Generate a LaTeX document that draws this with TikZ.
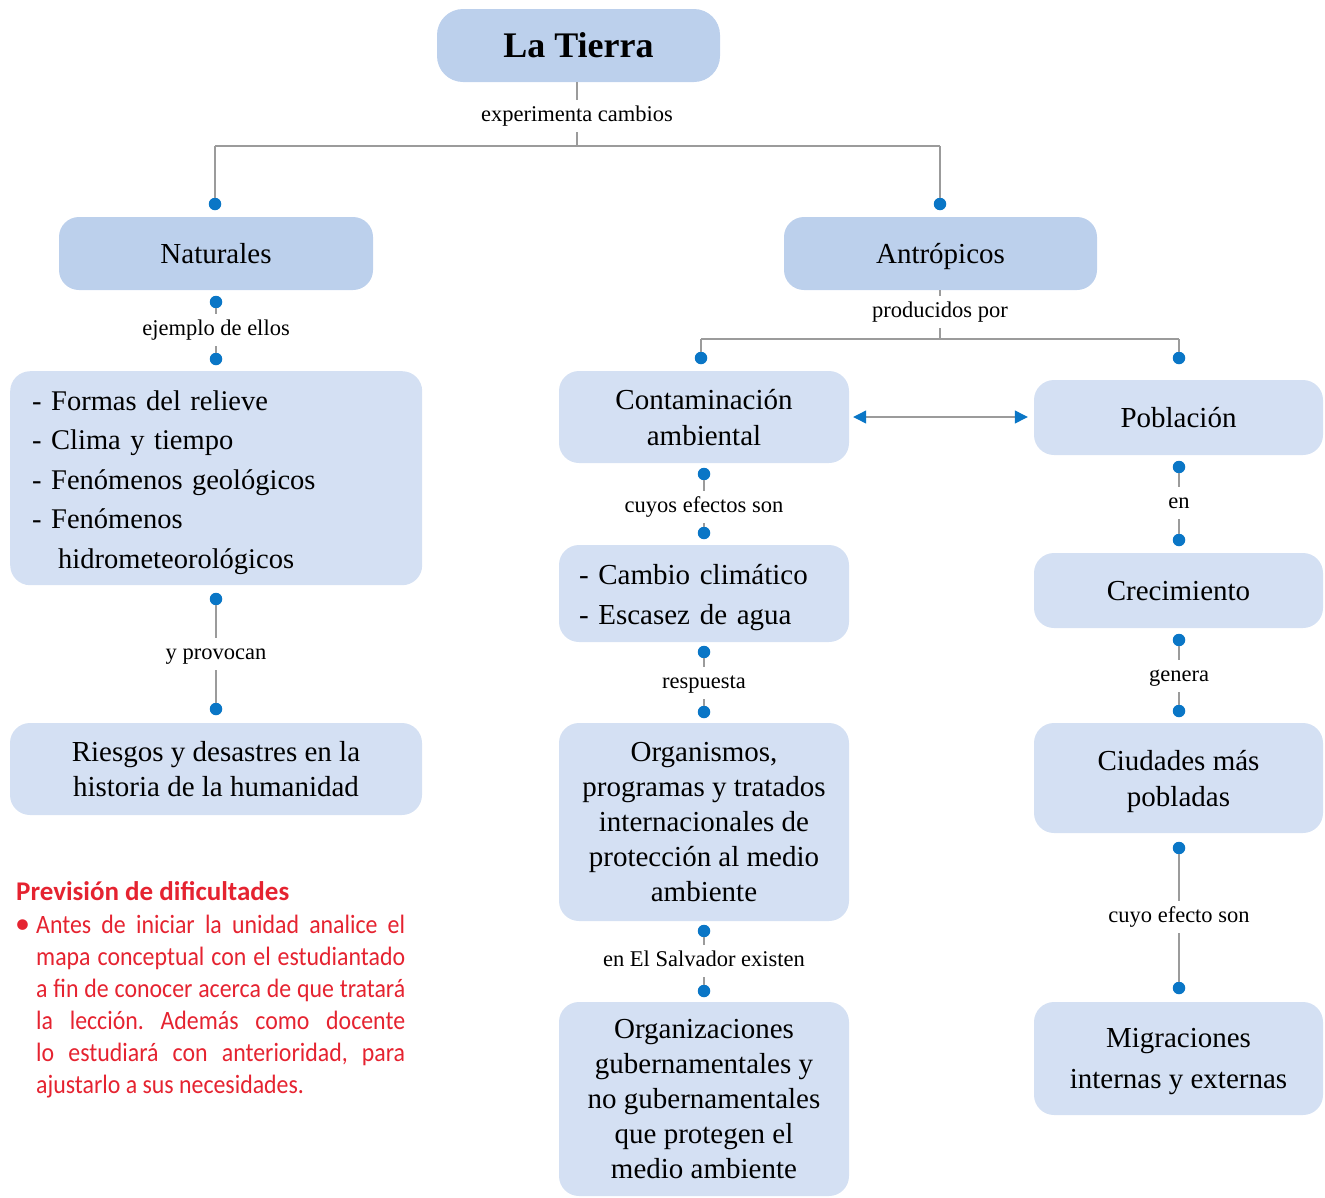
\documentclass[tikz,border=0pt]{standalone}
\usepackage{fontspec}
\setmainfont{Liberation Serif}
\newfontfamily\redfont[FakeStretch=0.9]{Carlito}
\newfontfamily\redtitle{Carlito}
\usetikzlibrary{arrows.meta}
\definecolor{boxdark}{HTML}{BCD0EC}
\definecolor{boxlight}{HTML}{D4E0F3}
\definecolor{dotblue}{HTML}{0A76C6}
\definecolor{linegray}{HTML}{9B9B9B}
\definecolor{redtxt}{HTML}{E52330}
\tikzset{
  conn/.style={draw=linegray, line width=1.2pt},
  dot/.style={circle, fill=dotblue, inner sep=0pt, minimum size=12.5pt},
  lbl/.style={font=\fontsize{22.5}{24}\selectfont, inner xsep=2pt, inner ysep=6pt, text height=15pt, text depth=5pt},
  boxd/.style={fill=boxdark, rounded corners=20pt, inner sep=0pt, align=center, text depth=0pt, font=\fontsize{29}{35}\selectfont},
  boxl/.style={boxd, fill=boxlight},
  listbox/.style={fill=boxlight, rounded corners=20pt, inner ysep=0pt, align=left},
  redline/.style={anchor=base west, inner sep=0pt, text=redtxt, font=\redfont\fontsize{26.5}{32}\selectfont}
}
\begin{document}
\frenchspacing
\begin{tikzpicture}[x=1pt,y=-1pt]
\useasboundingbox (0,0) rectangle (1325,1197);
\clip (0,0) rectangle (1325,1197);

% top
\node[boxd, rounded corners=26pt, minimum width=283, minimum height=73, font=\fontsize{36}{40}\selectfont\bfseries] (tierra) at (578.5,45.5) {La Tierra};
\node[lbl] (l0) at (577,116) {experimenta cambios};
\coordinate (j0) at (577,146);
\coordinate (j0L) at (215,146);
\coordinate (j0R) at (940,146);
\node[dot] (d1) at (215,204) {};
\node[dot] (d2) at (940,204) {};
\draw[conn] (l0.north |- tierra.south) -- (l0.north);
\draw[conn] (l0.south) -- (j0);
\draw[conn] (j0L) -- (j0R);
\draw[conn] (j0L) -- (d1);
\draw[conn] (j0R) -- (d2);

% Naturales branch
\node[boxd, minimum width=314, minimum height=73] (nat) at (216,253.5) {Naturales};
\node[dot] (d3) at (216,302) {};
\node[lbl] (l1) at (216,330) {ejemplo de ellos};
\node[dot] (d4) at (216,359) {};
\draw[conn] (d3) -- (l1) -- (d4);
\node[listbox, anchor=north west, minimum height=214, text width=368, inner xsep=22pt, font=\fontsize{28.5}{39.5}\selectfont] (ejem) at (10,371)
  {\rule{0pt}{28pt}- Formas del relieve\\- Clima y tiempo\\- Fenómenos geológicos\\- Fenómenos\\\hspace*{26pt}hidrometeorológicos};
\node[dot] (d5) at (216,599) {};
\node[lbl] (l2) at (216,654) {y provocan};
\node[dot] (d6) at (216,709) {};
\draw[conn] (d5) -- (l2) -- (d6);
\node[boxl, minimum width=412, minimum height=92] (riesgos) at (216,769) {Riesgos y desastres en la\\historia de la humanidad};

% Antropicos branch
\node[boxd, minimum width=313, minimum height=73] (antro) at (940.5,253.5) {Antrópicos};
\node[lbl] (l3) at (940,312) {producidos por};
\coordinate (j1) at (940,339);
\coordinate (j1L) at (701,339);
\coordinate (j1R) at (1179,339);
\node[dot] (d7) at (701,358) {};
\node[dot] (d8) at (1179,358) {};
\draw[conn] (l3.north |- antro.south) -- (l3.north);
\draw[conn] (l3.south) -- (j1);
\draw[conn] (j1L) -- (j1R);
\draw[conn] (j1L) -- (d7);
\draw[conn] (j1R) -- (d8);

% middle column
\node[boxl, minimum width=290, minimum height=92, font=\fontsize{29}{36}\selectfont] (contam) at (704,417) {Contaminación\\ambiental};
\node[boxl, minimum width=289, minimum height=75] (pobl) at (1178.5,417.5) {Población};
\draw[conn, {Triangle[length=13pt,width=13pt,color=dotblue]}-{Triangle[length=13pt,width=13pt,color=dotblue]}] ([xshift=4pt]contam.east) -- ([xshift=-6pt]contam.east -| pobl.west);

\node[dot] (d9) at (704,474) {};
\node[lbl] (l4) at (704,507) {cuyos efectos son};
\node[dot] (d10) at (704,533) {};
\draw[conn] (d9) -- (l4) -- (d10);
\node[listbox, minimum height=97, text width=250, inner xsep=20pt, font=\fontsize{29}{40}\selectfont] (cambio) at (704,593.5) {\rule{0pt}{29pt}- Cambio climático\\- Escasez de agua};
\node[dot] (d11) at (704,652) {};
\node[lbl] (l5) at (704,683) {respuesta};
\node[dot] (d12) at (704,712) {};
\draw[conn] (d11) -- (l5) -- (d12);
\node[boxl, minimum width=290, minimum height=198] (organ) at (704,822) {Organismos,\\programas y tratados\\internacionales de\\protección al medio\\ambiente};
\node[dot] (d13) at (704,931) {};
\node[lbl] (l6) at (704,961) {en El Salvador existen};
\node[dot] (d14) at (704,991) {};
\draw[conn] (d13) -- (l6) -- (d14);
\node[boxl, minimum width=290, minimum height=194] (orgz) at (704,1099) {Organizaciones\\gubernamentales y\\no gubernamentales\\que protegen el\\medio ambiente};

% right column
\node[dot] (d15) at (1179,467) {};
\node[lbl] (l7) at (1179,503) {en};
\node[dot] (d16) at (1179,540) {};
\draw[conn] (d15) -- (l7) -- (d16);
\node[boxl, minimum width=289, minimum height=75] (crec) at (1178.5,590.5) {Crecimiento};
\node[dot] (d17) at (1179,640) {};
\node[lbl] (l8) at (1179,676) {genera};
\node[dot] (d18) at (1179,711) {};
\draw[conn] (d17) -- (l8) -- (d18);
\node[boxl, minimum width=289, minimum height=110, font=\fontsize{29}{36}\selectfont] (ciud) at (1178.5,778) {Ciudades más\\pobladas};
\node[dot] (d19) at (1179,848) {};
\node[lbl] (l9) at (1179,917) {cuyo efecto son};
\node[dot] (d20) at (1179,988) {};
\draw[conn] (d19) -- (l9) -- (d20);
\node[boxl, minimum width=289, minimum height=113, font=\fontsize{29}{41}\selectfont] (migr) at (1178.5,1058.5) {Migraciones\\internas y externas};

% red note
\node[anchor=base west, inner sep=0pt, text=redtxt, font=\redtitle\bfseries\fontsize{27}{32}\selectfont] (rtitle) at (16,900) {Previsión de dificultades};
\node[redline, font=\redtitle\fontsize{30}{32}\selectfont] (rbul) at (15,933) {•};
\node[redline] (r1) at (36,933) {\makebox[369pt][s]{Antes de iniciar la unidad analice el}};
\node[redline] (r2) at (36,965) {\makebox[369pt][s]{mapa conceptual con el estudiantado}};
\node[redline] (r3) at (36,997) {\makebox[369pt][s]{a fin de conocer acerca de que tratará}};
\node[redline] (r4) at (36,1029) {\makebox[369pt][s]{la lección. Además como docente}};
\node[redline] (r5) at (36,1061) {\makebox[369pt][s]{lo estudiará con anterioridad, para}};
\node[redline] (r6) at (36,1093) {ajustarlo a sus necesidades.};
\end{tikzpicture}
\end{document}
